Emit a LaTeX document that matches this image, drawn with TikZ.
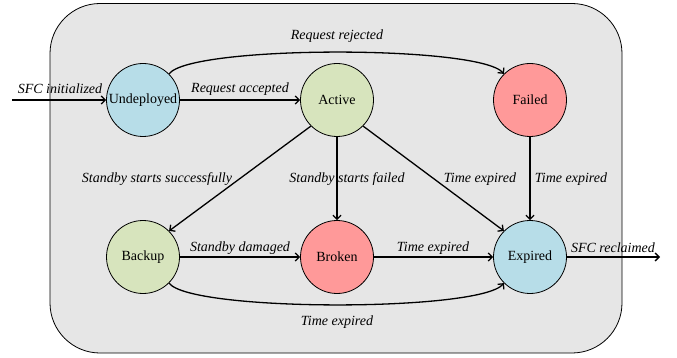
\documentclass[tikz,border=0pt]{standalone}
\usepackage{fontspec}
\setmainfont{Liberation Serif}
\usetikzlibrary{arrows.meta}
\definecolor{panelgray}{RGB}{230,230,230}
\definecolor{stateblue}{RGB}{183,221,232}
\definecolor{stategreen}{RGB}{215,228,189}
\definecolor{statered}{RGB}{255,153,153}
\begin{document}
\begin{tikzpicture}[x=1pt,y=-1pt,
  state/.style={circle,draw=black,line width=0.8pt,minimum size=73pt,inner sep=0pt,font=\fontsize{14}{16}\selectfont},
  trans/.style={line width=1.3pt,-{Straight Barb[length=4pt,width=8pt,line width=1.3pt]}},
  lbl/.style={font=\fontsize{14}{16}\selectfont\itshape,inner sep=0pt}]
\useasboundingbox (0,0) rectangle (677,358);
% life-cycle panel
\draw[fill=panelgray,line width=0.8pt,rounded corners=50pt] (50,3.5) rectangle (622,353);

% states
\node[state,fill=stateblue]  (und) at (143,100) {Undeployed};
\node[state,fill=stategreen] (act) at (337,100) {Active};
\node[state,fill=statered]   (fail) at (530,100) {Failed};
\node[state,fill=stategreen] (bak) at (143,257) {Backup};
\node[state,fill=statered]   (brk) at (337,257) {Broken};
\node[state,fill=stateblue]  (exp) at (530,257) {Expired};

% entry and exit points
\coordinate (start) at (12,100);
\coordinate (finish) at (660,257);

% transitions
\draw[trans] (start) -- (und.west);
\draw[trans] (und) -- (act);
\draw[trans] (und.45) .. controls (190,45) and (480,45) .. (fail.135);
\draw[trans] (act.-135) -- (bak.45);
\draw[trans] (act.south) -- (brk.north);
\draw[trans] (act.-45) -- (exp.135);
\draw[trans] (fail.south) -- (exp.north);
\draw[trans] (bak) -- (brk);
\draw[trans] (brk) -- (exp);
\draw[trans] (bak.-45) .. controls (190,312) and (480,312) .. (exp.-135);
\draw[trans] (exp.east) -- (finish);

% transition labels
\node[lbl] (l1) at (60,89) {SFC initialized};
\node[lbl] (l2) at (240,89) {Request accepted};
\node[lbl] (l3) at (337,36) {Request rejected};
\node[lbl] (l4) at (157,179) {Standby starts successfully};
\node[lbl] (l5) at (347,179) {Standby starts failed};
\node[lbl] (l6) at (480,179) {Time expired};
\node[lbl] (l7) at (571,179) {Time expired};
\node[lbl] (l8) at (240,248) {Standby damaged};
\node[lbl] (l9) at (433,248) {Time expired};
\node[lbl] (l10) at (613,248) {SFC reclaimed};
\node[lbl] (l11) at (337,322) {Time expired};
\end{tikzpicture}
\end{document}
